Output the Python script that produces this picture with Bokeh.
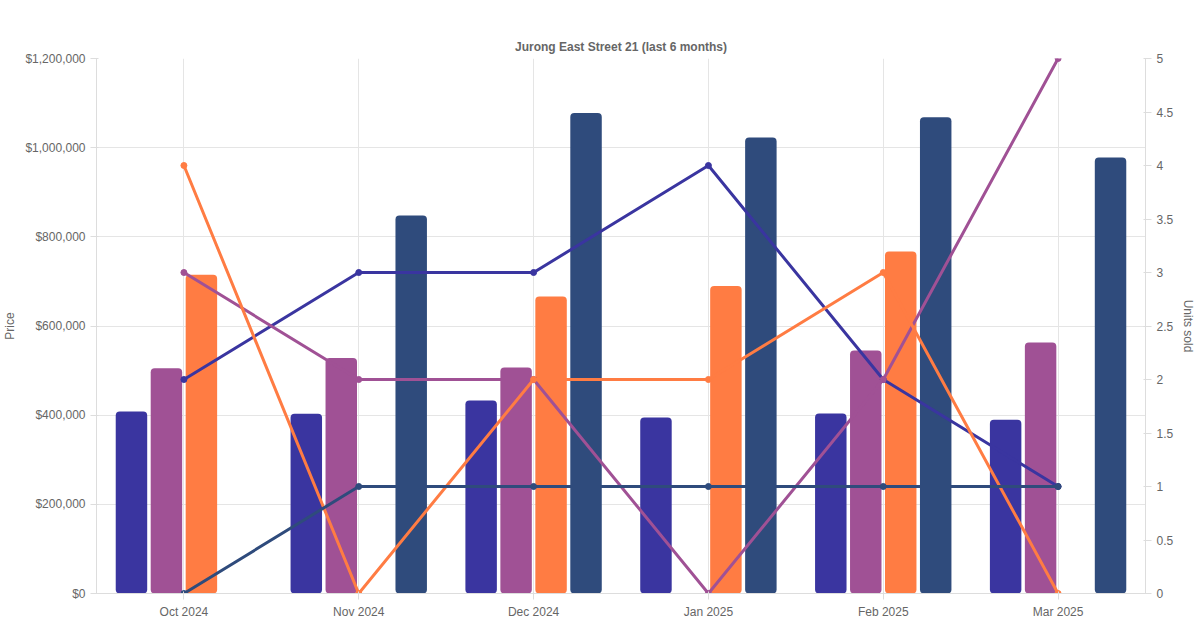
import math
from bokeh.plotting import figure
from bokeh.models import (FactorRange, Range1d, LinearAxis, FixedTicker, NumeralTickFormatter,
                          Legend, LegendItem, ColumnDataSource)
from bokeh.transform import dodge
from bokeh.embed import file_html
from bokeh.resources import INLINE

nan = float("nan")
months = ["Oct 2024", "Nov 2024", "Dec 2024", "Jan 2025", "Feb 2025", "Mar 2025"]
series = ["3 Room", "4 Room", "5 Room", "Executive"]
colors = ["#3a35a0", "#a05195", "#ff7c43", "#2f4b7c"]
price_3r = [408000, 403000, 433000, 395000, 404000, 390000]
price_4r = [505000, 528000, 507000, nan, 545000, 563000]
price_5r = [715000, nan, 666000, 690000, 767000, nan]
price_ex = [nan, 848000, 1078000, 1023000, 1068000, 978000]
units_3r = [2, 3, 3, 4, 2, 1]
units_4r = [3, 2, 2, 0, 2, 5]
units_5r = [4, 0, 2, 2, 3, 0]
units_ex = [0, 1, 1, 1, 1, 1]

prices = [price_3r, price_4r, price_5r, price_ex]
units = [units_3r, units_4r, units_5r, units_ex]
offsets = [-0.3, -0.1, 0.1, 0.3]

p = figure(frame_width=1049, frame_height=535, x_range=FactorRange(*months), y_range=Range1d(0, 1200000),
           output_backend="svg", toolbar_location=None, title="Jurong East Street 21 (last 6 months)")
p.title.align = "center"
p.title.text_font = "Liberation Sans"
p.title.text_font_size = "12px"
p.title.text_color = "#666666"
p.extra_y_ranges = {"units": Range1d(0, 5)}
p.outline_line_color = None
p.min_border_left = 10
p.min_border_right = 10
p.min_border_bottom = 10
p.min_border_top = 58

src = ColumnDataSource(dict(month=months, **{f"p{i}": prices[i] for i in range(4)},
                            **{f"u{i}": units[i] for i in range(4)}))
items = []
for i in range(4):
    r = p.vbar(x=dodge("month", offsets[i], range=p.x_range), top=f"p{i}", width=0.18,
               source=src, fill_color=colors[i], line_color=None, border_radius=4)
    items.append(LegendItem(label=series[i], renderers=[r]))
for i in range(4):
    p.line(x="month", y=f"u{i}", source=src, color=colors[i], line_width=3, y_range_name="units")
    p.scatter(x="month", y=f"u{i}", source=src, color=colors[i], size=6, y_range_name="units")

p.yaxis.ticker = FixedTicker(ticks=list(range(0, 1200001, 200000)))
p.yaxis.formatter = NumeralTickFormatter(format="$0,0")
p.yaxis.axis_label = "Price"
ax2 = LinearAxis(y_range_name="units", axis_label="Units sold")
ticks = [x * 0.5 for x in range(11)]
ax2.ticker = FixedTicker(ticks=ticks)
ax2.major_label_overrides = {t: ("%g" % t) for t in ticks}
p.add_layout(ax2, "right")

for ax in [p.yaxis[0], ax2, p.xaxis[0]]:
    ax.major_label_text_font = "Liberation Sans"
    ax.major_label_text_font_size = "12px"
    ax.major_label_text_color = "#666666"
    ax.axis_label_text_font = "Liberation Sans"
    ax.axis_label_text_font_size = "12px"
    ax.axis_label_text_font_style = "normal"
    ax.axis_label_text_color = "#666666"
    ax.axis_line_color = "#dddddd"
    ax.major_tick_line_color = "#dddddd"
    ax.minor_tick_line_color = None
p.xgrid.grid_line_color = "#e5e5e5"
p.ygrid.grid_line_color = "#e5e5e5"

legend = Legend(items=items, orientation="horizontal", location=(300, 537),
                label_text_font="Liberation Sans", label_text_font_size="12px",
                label_text_color="#666666", glyph_width=40, glyph_height=12,
                border_line_color=None, background_fill_alpha=0, padding=0, margin=0, spacing=10)
p.add_layout(legend)

open("out.html", "w").write(file_html(p, INLINE))
